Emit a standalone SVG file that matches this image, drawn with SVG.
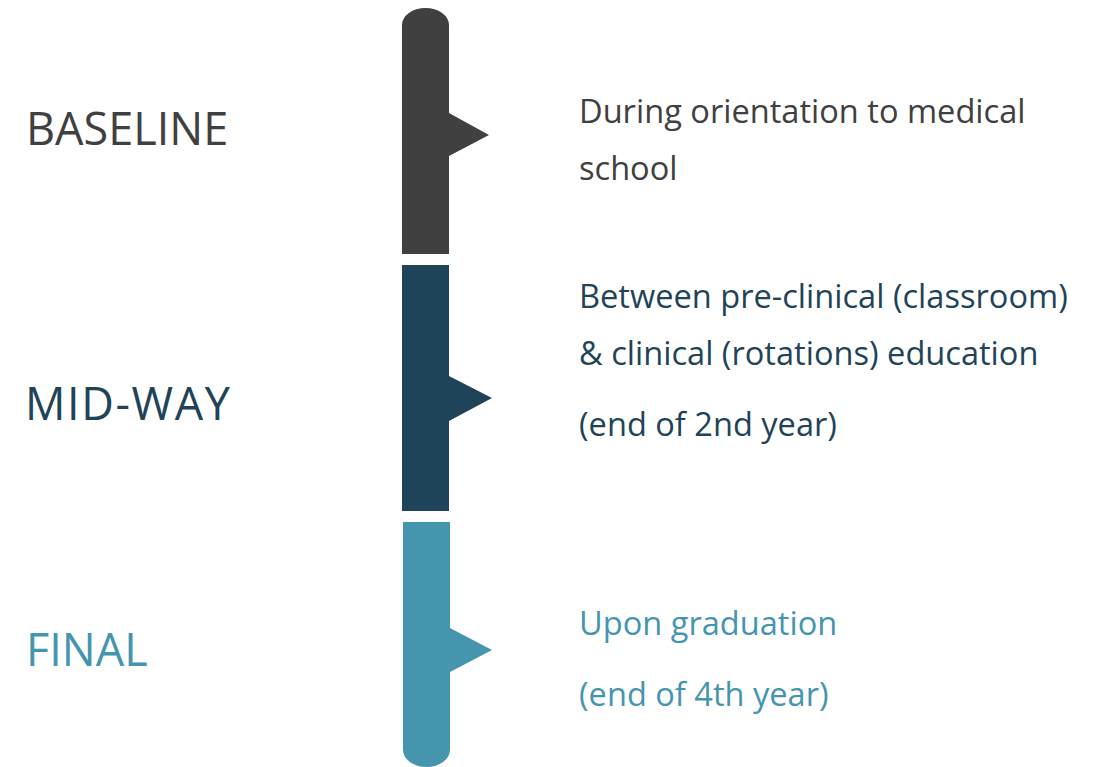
<svg xmlns="http://www.w3.org/2000/svg" width="1104" height="767" viewBox="0 0 1104 767">
  <style>
    .stage { font-family: "Open Sans", "Liberation Sans", sans-serif; font-size: 45px; }
    .note { font-family: "Open Sans", "Liberation Sans", sans-serif; font-size: 32.6px; }
    .gray { fill: #404040; }
    .navy { fill: #1F4459; }
    .teal { fill: #4695AF; }
  </style>
  <rect width="1104" height="767" fill="#FFFFFF"/>

  <!-- Baseline stage -->
  <g id="baseline">
    <path class="gray" d="M402,254 V25 A23.5,17 0 0 1 449,25 V113 L489,135 L449,156 V254 Z"/>
    <text class="stage gray" x="26" y="145">BASELINE</text>
    <text class="note gray" x="579" y="123">During orientation to medical</text>
    <text class="note gray" x="579" y="180">school</text>
  </g>

  <!-- Mid-way stage -->
  <g id="midway">
    <path class="navy" d="M402,265 H449 V376 L492,398 L449,421 V511 H402 Z"/>
    <text class="stage navy" x="25" y="420" textLength="205" lengthAdjust="spacing">MID-WAY</text>
    <text class="note navy" x="579" y="308">Between pre-clinical (classroom)</text>
    <text class="note navy" x="579" y="365">&amp; clinical (rotations) education</text>
    <text class="note navy" x="579" y="436">(end of 2nd year)</text>
  </g>

  <!-- Final stage -->
  <g id="final">
    <path class="teal" d="M403,522 H450 V628 L492,650 L450,672 V750 A23.5,17 0 0 1 403,750 Z"/>
    <text class="stage teal" x="26" y="666">FINAL</text>
    <text class="note teal" x="579" y="635">Upon graduation</text>
    <text class="note teal" x="579" y="706">(end of 4th year)</text>
  </g>

  <g id="connectors"/>
</svg>
